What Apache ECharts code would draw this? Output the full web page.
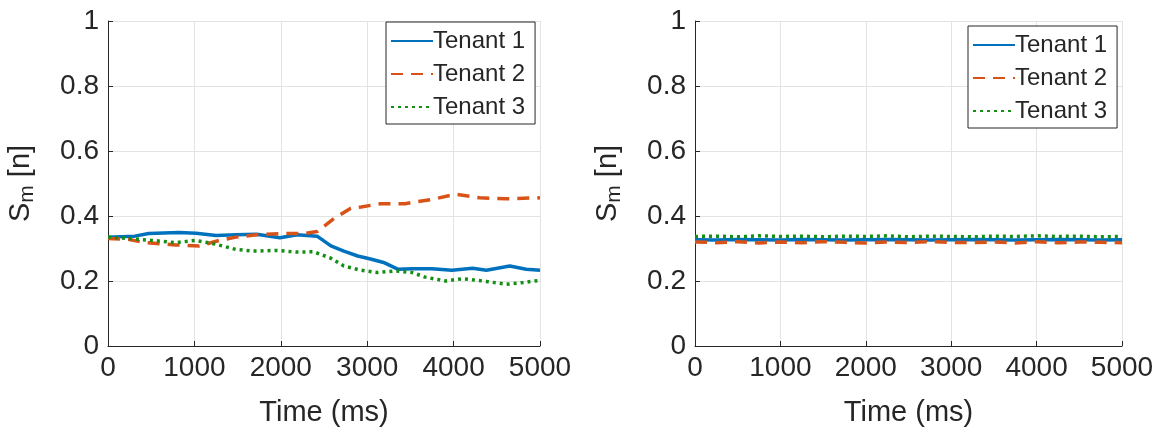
<!DOCTYPE html>
<html>
<head>
<meta charset="utf-8">
<script src="https://cdn.jsdelivr.net/npm/echarts@6/dist/echarts.min.js"></script>
<style>
  html, body { margin: 0; padding: 0; background: #fff; }
  #chart { width: 1159px; height: 428px; }
</style>
</head>
<body>
<div id="chart"></div>
<script>
// data (time in ms, share S_m[n])
var xTicks = [0, 1000, 2000, 3000, 4000, 5000];
var yTicks = [0, 0.2, 0.4, 0.6, 0.8, 1];
var names = ['Tenant 1', 'Tenant 2', 'Tenant 3'];

// left panel
var tL1 = [0, 310, 470, 820, 1020, 1250, 1480, 1720, 1990, 2190, 2420, 2580, 2730, 2890, 3050, 3200, 3360, 3520, 3750, 3980, 4220, 4380, 4650, 4840, 5000];
var sL1 = [0.335, 0.338, 0.346, 0.349, 0.347, 0.340, 0.342, 0.344, 0.333, 0.342, 0.338, 0.308, 0.292, 0.277, 0.267, 0.256, 0.236, 0.238, 0.238, 0.233, 0.239, 0.233, 0.246, 0.236, 0.233];
var tL2 = [0, 234, 430, 781, 1055, 1290, 1480, 1720, 1990, 2266, 2420, 2620, 2810, 2930, 3160, 3440, 3750, 4020, 4300, 4610, 5000];
var sL2 = [0.331, 0.328, 0.318, 0.311, 0.308, 0.325, 0.335, 0.342, 0.346, 0.346, 0.352, 0.393, 0.424, 0.428, 0.438, 0.438, 0.451, 0.467, 0.456, 0.453, 0.456];
var tL3 = [0, 234, 508, 781, 1016, 1250, 1480, 1680, 1950, 2190, 2380, 2580, 2730, 2930, 3120, 3320, 3520, 3670, 3910, 4100, 4340, 4610, 4800, 5000];
var sL3 = [0.335, 0.331, 0.325, 0.318, 0.325, 0.313, 0.297, 0.292, 0.294, 0.289, 0.290, 0.270, 0.246, 0.233, 0.226, 0.231, 0.226, 0.212, 0.200, 0.207, 0.200, 0.190, 0.195, 0.202];

// right panel
var tR = [0, 250, 500, 750, 1000, 1250, 1500, 1750, 2000, 2250, 2500, 2750, 3000, 3250, 3500, 3750, 4000, 4250, 4500, 4750, 5000];
var sR1 = [0.327, 0.326, 0.328, 0.327, 0.326, 0.328, 0.327, 0.326, 0.327, 0.328, 0.327, 0.326, 0.327, 0.328, 0.327, 0.326, 0.327, 0.328, 0.327, 0.326, 0.327];
var sR2 = [0.320, 0.318, 0.321, 0.317, 0.320, 0.318, 0.321, 0.319, 0.317, 0.320, 0.318, 0.321, 0.319, 0.318, 0.320, 0.317, 0.321, 0.318, 0.320, 0.319, 0.318];
var sR3 = [0.337, 0.338, 0.336, 0.339, 0.337, 0.338, 0.336, 0.338, 0.337, 0.339, 0.336, 0.338, 0.337, 0.336, 0.338, 0.337, 0.339, 0.337, 0.338, 0.336, 0.337];

var colors = ['#0072BD', '#D95319', '#138f13'];
var lineTypes = ['solid', [12, 8], [3, 4]];
var font = 'Liberation Sans, Arial, sans-serif';
var ink = '#262626';

function pairs(t, s) {
    return t.map(function (v, i) { return [v, s[i]]; });
}

function xAxisFor(idx) {
    return {
        gridIndex: idx, type: 'value', min: xTicks[0], max: xTicks[xTicks.length - 1], interval: 1000,
        name: 'Time (ms)', nameLocation: 'middle', nameGap: 52,
        nameTextStyle: { fontSize: 29, color: ink, fontFamily: font },
        axisLine: { lineStyle: { color: ink, width: 1 } },
        axisTick: { inside: true, length: 5, lineStyle: { color: ink } },
        axisLabel: { fontSize: 28, color: ink, fontFamily: font, margin: 8, formatter: function (v) { return String(v); } },
        splitLine: { show: true, lineStyle: { color: '#e3e3e3', width: 1 } }
    };
}

function yAxisFor(idx) {
    return {
        gridIndex: idx, type: 'value', min: yTicks[0], max: yTicks[yTicks.length - 1], interval: 0.2,
        name: 'S{sub|m} [n]', nameLocation: 'middle', nameGap: 70, nameRotate: 90,
        nameTextStyle: {
            fontSize: 29, color: ink, fontFamily: font,
            rich: { sub: { fontSize: 21, color: ink, fontFamily: font, verticalAlign: 'bottom', padding: [14, 0, 0, 0] } }
        },
        axisLine: { show: true, lineStyle: { color: ink, width: 1 } },
        axisTick: { show: true, inside: true, length: 5, lineStyle: { color: ink } },
        axisLabel: {
            fontSize: 28, color: ink, fontFamily: font, margin: 9,
            formatter: function (v) { return (v === 0 || v === 1) ? String(v) : v.toFixed(1); }
        },
        splitLine: { show: true, lineStyle: { color: '#e3e3e3', width: 1 } }
    };
}

function seriesFor(idx, k, data) {
    return {
        name: names[k], type: 'line', xAxisIndex: idx, yAxisIndex: idx,
        data: data, showSymbol: false, symbol: 'none', animation: false,
        lineStyle: { color: colors[k], width: 3.5, type: lineTypes[k] },
        itemStyle: { color: colors[k] }
    };
}

function legendFor(left, top) {
    return {
        orient: 'vertical', left: left, top: top, width: 155,
        data: names, itemWidth: 42, itemHeight: 14, itemGap: 9,
        padding: [7, 10, 5, 4], borderColor: ink, borderWidth: 1, backgroundColor: '#fff',
        itemStyle: { opacity: 0 },
        textStyle: { fontSize: 24, color: ink, fontFamily: font, padding: [0, 0, 0, -5] },
        selectedMode: false
    };
}

var myChart = echarts.init(document.getElementById('chart'));

var option = {
    backgroundColor: '#fff',
    animation: false,
    grid: [
        { left: 108, right: 619, top: 21, bottom: 82, containLabel: false, outerBoundsMode: 'none' },
        { left: 695, right: 37, top: 21, bottom: 82, containLabel: false, outerBoundsMode: 'none' }
    ],
    xAxis: [xAxisFor(0), xAxisFor(1)],
    yAxis: [yAxisFor(0), yAxisFor(1)],
    legend: [legendFor(386, 22), legendFor(968, 26)],
    series: [
        seriesFor(0, 0, pairs(tL1, sL1)),
        seriesFor(0, 1, pairs(tL2, sL2)),
        seriesFor(0, 2, pairs(tL3, sL3)),
        seriesFor(1, 0, pairs(tR, sR1)),
        seriesFor(1, 1, pairs(tR, sR2)),
        seriesFor(1, 2, pairs(tR, sR3))
    ]
};

myChart.setOption(option);
</script>
</body>
</html>
